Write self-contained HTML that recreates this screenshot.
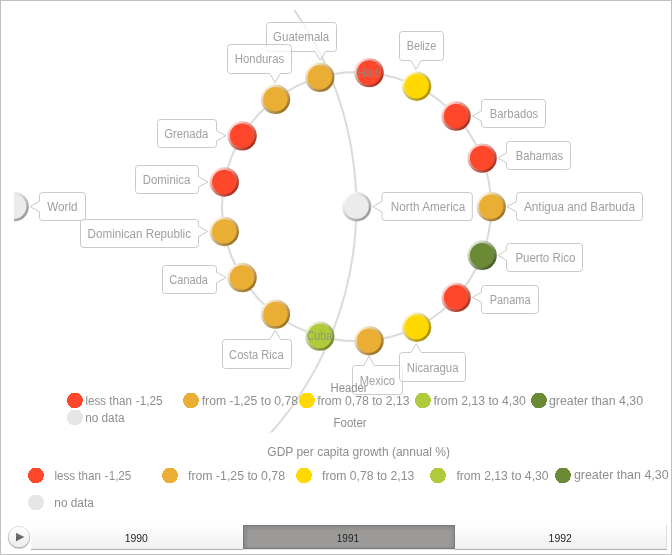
<!DOCTYPE html>
<html lang="en"><head><meta charset="utf-8"><title>GDP per capita growth (annual %)</title>
<style>html,body{margin:0;padding:0;background:#fff;overflow:hidden}svg{display:block;font-family:'Liberation Sans', sans-serif}</style></head><body>
<svg width="672" height="555" viewBox="0 0 672 555">
<defs>
<clipPath id="plot"><rect x="14" y="10" width="644" height="422.5"/></clipPath>
<linearGradient id="rim-red" x1="0.16" y1="0.16" x2="0.84" y2="0.84"><stop offset="0" stop-color="#ffdad4"/><stop offset="1" stop-color="#a82e1c"/></linearGradient>
<linearGradient id="rim-org" x1="0.16" y1="0.16" x2="0.84" y2="0.84"><stop offset="0" stop-color="#fbeed6"/><stop offset="1" stop-color="#9b7222"/></linearGradient>
<linearGradient id="rim-yel" x1="0.16" y1="0.16" x2="0.84" y2="0.84"><stop offset="0" stop-color="#fff7cc"/><stop offset="1" stop-color="#a88f00"/></linearGradient>
<linearGradient id="rim-lgr" x1="0.16" y1="0.16" x2="0.84" y2="0.84"><stop offset="0" stop-color="#eff4d8"/><stop offset="1" stop-color="#738527"/></linearGradient>
<linearGradient id="rim-dgr" x1="0.16" y1="0.16" x2="0.84" y2="0.84"><stop offset="0" stop-color="#e1e7d6"/><stop offset="1" stop-color="#455b23"/></linearGradient>
<linearGradient id="rim-gry" x1="0.16" y1="0.16" x2="0.84" y2="0.84"><stop offset="0" stop-color="#fbfbfb"/><stop offset="1" stop-color="#9b9b9b"/></linearGradient>
<linearGradient id="tl" x1="0" y1="0" x2="0" y2="1"><stop offset="0" stop-color="#ffffff"/><stop offset="1" stop-color="#efefef"/></linearGradient>
<linearGradient id="tls" x1="0" y1="0" x2="0" y2="1"><stop offset="0" stop-color="#8b8a88"/><stop offset="0.2" stop-color="#9a9997"/><stop offset="0.85" stop-color="#9d9c9a"/><stop offset="1" stop-color="#939290"/></linearGradient>
<linearGradient id="tlsl" x1="0" y1="0" x2="1" y2="0"><stop offset="0" stop-color="#7b7a78" stop-opacity="0.55"/><stop offset="1" stop-color="#7b7a78" stop-opacity="0"/></linearGradient>
<linearGradient id="tlsr" x1="1" y1="0" x2="0" y2="0"><stop offset="0" stop-color="#7b7a78" stop-opacity="0.4"/><stop offset="1" stop-color="#7b7a78" stop-opacity="0"/></linearGradient>
<linearGradient id="btns" x1="0" y1="0" x2="0" y2="1"><stop offset="0" stop-color="#dcdcdc"/><stop offset="1" stop-color="#a8a8a8"/></linearGradient>
<linearGradient id="btn" x1="0" y1="0" x2="0" y2="1"><stop offset="0" stop-color="#ffffff"/><stop offset="1" stop-color="#ececec"/></linearGradient>
<linearGradient id="tri" x1="0" y1="0" x2="0" y2="1"><stop offset="0" stop-color="#7a7a7a"/><stop offset="1" stop-color="#555555"/></linearGradient>
</defs>
<rect x="0" y="0" width="672" height="555" fill="#fff"/>
<g clip-path="url(#plot)" fill="none" stroke="#dcdcdc" stroke-width="2.1">
<circle cx="14.2" cy="206.6" r="342.1"/>
<circle cx="356.6" cy="206.7" r="134.6"/>
</g>
<g clip-path="url(#plot)">
<circle cx="14.2" cy="206.6" r="14.7" fill="url(#rim-gry)"/>
<circle cx="14.15" cy="206.5" r="12.2" fill="#ebebeb"/>
<circle cx="356.6" cy="206.7" r="14.7" fill="url(#rim-gry)"/>
<circle cx="356.55" cy="206.6" r="12.2" fill="#ebebeb"/>
<circle cx="491.2" cy="206.7" r="14.7" fill="url(#rim-org)"/>
<circle cx="491.15" cy="206.6" r="12.2" fill="#ebae34"/>
<circle cx="482.11" cy="255.32" r="14.7" fill="url(#rim-dgr)"/>
<circle cx="482.06" cy="255.22" r="12.2" fill="#6a8a36"/>
<circle cx="456.07" cy="297.38" r="14.7" fill="url(#rim-red)"/>
<circle cx="456.02" cy="297.28" r="12.2" fill="#ff472b"/>
<circle cx="416.6" cy="327.19" r="14.7" fill="url(#rim-yel)"/>
<circle cx="416.55" cy="327.09" r="12.2" fill="#ffd900"/>
<circle cx="369.02" cy="340.73" r="14.7" fill="url(#rim-org)"/>
<circle cx="368.97" cy="340.63" r="12.2" fill="#ebae34"/>
<circle cx="319.76" cy="336.16" r="14.7" fill="url(#rim-lgr)"/>
<circle cx="319.71" cy="336.06" r="12.2" fill="#afcb3c"/>
<circle cx="275.49" cy="314.11" r="14.7" fill="url(#rim-org)"/>
<circle cx="275.44" cy="314.01" r="12.2" fill="#ebae34"/>
<circle cx="242.16" cy="277.56" r="14.7" fill="url(#rim-org)"/>
<circle cx="242.11" cy="277.46" r="12.2" fill="#ebae34"/>
<circle cx="224.29" cy="231.43" r="14.7" fill="url(#rim-org)"/>
<circle cx="224.24" cy="231.33" r="12.2" fill="#ebae34"/>
<circle cx="224.29" cy="181.97" r="14.7" fill="url(#rim-red)"/>
<circle cx="224.24" cy="181.87" r="12.2" fill="#ff472b"/>
<circle cx="242.16" cy="135.84" r="14.7" fill="url(#rim-red)"/>
<circle cx="242.11" cy="135.74" r="12.2" fill="#ff472b"/>
<circle cx="275.49" cy="99.29" r="14.7" fill="url(#rim-org)"/>
<circle cx="275.44" cy="99.19" r="12.2" fill="#ebae34"/>
<circle cx="319.76" cy="77.24" r="14.7" fill="url(#rim-org)"/>
<circle cx="319.71" cy="77.14" r="12.2" fill="#ebae34"/>
<circle cx="369.02" cy="72.67" r="14.7" fill="url(#rim-red)"/>
<circle cx="368.97" cy="72.57" r="12.2" fill="#ff472b"/>
<circle cx="416.6" cy="86.21" r="14.7" fill="url(#rim-yel)"/>
<circle cx="416.55" cy="86.11" r="12.2" fill="#ffd900"/>
<circle cx="456.07" cy="116.02" r="14.7" fill="url(#rim-red)"/>
<circle cx="456.02" cy="115.92" r="12.2" fill="#ff472b"/>
<circle cx="482.11" cy="158.08" r="14.7" fill="url(#rim-red)"/>
<circle cx="482.06" cy="157.98" r="12.2" fill="#ff472b"/>
</g>
<g clip-path="url(#plot)">
<path d="M42.5 192.5L82.5 192.5Q85.5 192.5 85.5 195.5L85.5 217.5Q85.5 220.5 82.5 220.5L42.5 220.5Q39.5 220.5 39.5 217.5L39.5 211.75 L30 206.55 L39.5 201.35L39.5 195.5Q39.5 192.5 42.5 192.5Z" fill="#fff" fill-opacity="0.72" stroke="#c9c9c9" stroke-width="1"/>
<text x="47.2" y="211.2" textLength="30.3" lengthAdjust="spacingAndGlyphs" font-size="12" fill="#a0a0a0">World</text>
<path d="M385 192.5L469.3 192.5Q472.3 192.5 472.3 195.5L472.3 217.5Q472.3 220.5 469.3 220.5L385 220.5Q382 220.5 382 217.5L382 211.85 L372.6 206.65 L382 201.45L382 195.5Q382 192.5 385 192.5Z" fill="#fff" fill-opacity="0.72" stroke="#c9c9c9" stroke-width="1"/>
<text x="390.8" y="211.3" textLength="74.5" lengthAdjust="spacingAndGlyphs" font-size="12" fill="#a0a0a0">North America</text>
<path d="M519.5 192.5L639.5 192.5Q642.5 192.5 642.5 195.5L642.5 217.5Q642.5 220.5 639.5 220.5L519.5 220.5Q516.5 220.5 516.5 217.5L516.5 211.85 L506.8 206.65 L516.5 201.45L516.5 195.5Q516.5 192.5 519.5 192.5Z" fill="#fff" fill-opacity="0.72" stroke="#c9c9c9" stroke-width="1"/>
<text x="523.9" y="211.1" textLength="111.1" lengthAdjust="spacingAndGlyphs" font-size="12" fill="#a0a0a0">Antigua and Barbuda</text>
<path d="M509.5 141.5L567.5 141.5Q570.5 141.5 570.5 144.5L570.5 166.5Q570.5 169.5 567.5 169.5L509.5 169.5Q506.5 169.5 506.5 166.5L506.5 163.23 L498.2 158.03 L506.5 152.83L506.5 144.5Q506.5 141.5 509.5 141.5Z" fill="#fff" fill-opacity="0.72" stroke="#c9c9c9" stroke-width="1"/>
<text x="515.7" y="160.1" textLength="47.4" lengthAdjust="spacingAndGlyphs" font-size="12" fill="#a0a0a0">Bahamas</text>
<path d="M484.5 99.5L542.5 99.5Q545.5 99.5 545.5 102.5L545.5 124.5Q545.5 127.5 542.5 127.5L484.5 127.5Q481.5 127.5 481.5 124.5L481.5 121.17 L472.4 115.97 L481.5 110.77L481.5 102.5Q481.5 99.5 484.5 99.5Z" fill="#fff" fill-opacity="0.72" stroke="#c9c9c9" stroke-width="1"/>
<text x="489.8" y="118.2" textLength="48.3" lengthAdjust="spacingAndGlyphs" font-size="12" fill="#a0a0a0">Barbados</text>
<path d="M402.5 31.5L440.5 31.5Q443.5 31.5 443.5 34.5L443.5 57.5Q443.5 60.5 440.5 60.5L421.2 60.5 L416 69.3 L410.8 60.5L402.5 60.5Q399.5 60.5 399.5 57.5L399.5 34.5Q399.5 31.5 402.5 31.5Z" fill="#fff" fill-opacity="0.72" stroke="#c9c9c9" stroke-width="1"/>
<text x="406.7" y="50" textLength="29.5" lengthAdjust="spacingAndGlyphs" font-size="12" fill="#a0a0a0">Belize</text>
<path d="M269.5 22.5L333.5 22.5Q336.5 22.5 336.5 25.5L336.5 48.5Q336.5 51.5 333.5 51.5L325.5 51.5 L320.3 60.3 L315.1 51.5L269.5 51.5Q266.5 51.5 266.5 48.5L266.5 25.5Q266.5 22.5 269.5 22.5Z" fill="#fff" fill-opacity="0.72" stroke="#c9c9c9" stroke-width="1"/>
<text x="273.1" y="41" textLength="56.1" lengthAdjust="spacingAndGlyphs" font-size="12" fill="#a0a0a0">Guatemala</text>
<path d="M230.5 44.5L288.5 44.5Q291.5 44.5 291.5 47.5L291.5 70.5Q291.5 73.5 288.5 73.5L280.2 73.5 L275 82.5 L269.8 73.5L230.5 73.5Q227.5 73.5 227.5 70.5L227.5 47.5Q227.5 44.5 230.5 44.5Z" fill="#fff" fill-opacity="0.72" stroke="#c9c9c9" stroke-width="1"/>
<text x="234.8" y="63" textLength="49.4" lengthAdjust="spacingAndGlyphs" font-size="12" fill="#a0a0a0">Honduras</text>
<path d="M160.5 119.5L213.5 119.5Q216.5 119.5 216.5 122.5L216.5 130.59 L226 135.79 L216.5 140.99L216.5 144.5Q216.5 147.5 213.5 147.5L160.5 147.5Q157.5 147.5 157.5 144.5L157.5 122.5Q157.5 119.5 160.5 119.5Z" fill="#fff" fill-opacity="0.72" stroke="#c9c9c9" stroke-width="1"/>
<text x="164.3" y="138.1" textLength="43.9" lengthAdjust="spacingAndGlyphs" font-size="12" fill="#a0a0a0">Grenada</text>
<path d="M138.5 165.5L195.5 165.5Q198.5 165.5 198.5 168.5L198.5 176.72 L208 181.92 L198.5 187.12L198.5 190.5Q198.5 193.5 195.5 193.5L138.5 193.5Q135.5 193.5 135.5 190.5L135.5 168.5Q135.5 165.5 138.5 165.5Z" fill="#fff" fill-opacity="0.72" stroke="#c9c9c9" stroke-width="1"/>
<text x="142.8" y="184.1" textLength="47.5" lengthAdjust="spacingAndGlyphs" font-size="12" fill="#a0a0a0">Dominica</text>
<path d="M83.5 219.5L195.5 219.5Q198.5 219.5 198.5 222.5L198.5 226.18 L207.8 231.38 L198.5 236.58L198.5 244.5Q198.5 247.5 195.5 247.5L83.5 247.5Q80.5 247.5 80.5 244.5L80.5 222.5Q80.5 219.5 83.5 219.5Z" fill="#fff" fill-opacity="0.72" stroke="#c9c9c9" stroke-width="1"/>
<text x="87.6" y="237.6" textLength="103.4" lengthAdjust="spacingAndGlyphs" font-size="12" fill="#a0a0a0">Dominican Republic</text>
<path d="M165.5 265.5L213.5 265.5Q216.5 265.5 216.5 268.5L216.5 272.31 L226.1 277.51 L216.5 282.71L216.5 290.5Q216.5 293.5 213.5 293.5L165.5 293.5Q162.5 293.5 162.5 290.5L162.5 268.5Q162.5 265.5 165.5 265.5Z" fill="#fff" fill-opacity="0.72" stroke="#c9c9c9" stroke-width="1"/>
<text x="169.3" y="283.9" textLength="38.7" lengthAdjust="spacingAndGlyphs" font-size="12" fill="#a0a0a0">Canada</text>
<path d="M225.5 339.5L270 339.5 L275.2 330.4 L280.4 339.5L288.5 339.5Q291.5 339.5 291.5 342.5L291.5 365.5Q291.5 368.5 288.5 368.5L225.5 368.5Q222.5 368.5 222.5 365.5L222.5 342.5Q222.5 339.5 225.5 339.5Z" fill="#fff" fill-opacity="0.72" stroke="#c9c9c9" stroke-width="1"/>
<text x="229.1" y="358.7" textLength="54.5" lengthAdjust="spacingAndGlyphs" font-size="12" fill="#a0a0a0">Costa Rica</text>
<path d="M355.5 365.5L363.8 365.5 L369 356.1 L374.2 365.5L399.5 365.5Q402.5 365.5 402.5 368.5L402.5 391.5Q402.5 394.5 399.5 394.5L355.5 394.5Q352.5 394.5 352.5 391.5L352.5 368.5Q352.5 365.5 355.5 365.5Z" fill="#fff" fill-opacity="0.72" stroke="#c9c9c9" stroke-width="1"/>
<text x="359.7" y="384.8" textLength="35.4" lengthAdjust="spacingAndGlyphs" font-size="12" fill="#a0a0a0">Mexico</text>
<path d="M402.5 352.5L411 352.5 L416.2 343.7 L421.4 352.5L462.5 352.5Q465.5 352.5 465.5 355.5L465.5 378.5Q465.5 381.5 462.5 381.5L402.5 381.5Q399.5 381.5 399.5 378.5L399.5 355.5Q399.5 352.5 402.5 352.5Z" fill="#fff" fill-opacity="0.72" stroke="#c9c9c9" stroke-width="1"/>
<text x="406.7" y="371.8" textLength="51.8" lengthAdjust="spacingAndGlyphs" font-size="12" fill="#a0a0a0">Nicaragua</text>
<path d="M484.5 285.5L535.5 285.5Q538.5 285.5 538.5 288.5L538.5 310.5Q538.5 313.5 535.5 313.5L484.5 313.5Q481.5 313.5 481.5 310.5L481.5 302.53 L472.4 297.33 L481.5 292.13L481.5 288.5Q481.5 285.5 484.5 285.5Z" fill="#fff" fill-opacity="0.72" stroke="#c9c9c9" stroke-width="1"/>
<text x="489.7" y="304" textLength="40.9" lengthAdjust="spacingAndGlyphs" font-size="12" fill="#a0a0a0">Panama</text>
<path d="M509.5 243.5L579.5 243.5Q582.5 243.5 582.5 246.5L582.5 268.5Q582.5 271.5 579.5 271.5L509.5 271.5Q506.5 271.5 506.5 268.5L506.5 260.47 L498.3 255.27 L506.5 250.07L506.5 246.5Q506.5 243.5 509.5 243.5Z" fill="#fff" fill-opacity="0.72" stroke="#c9c9c9" stroke-width="1"/>
<text x="515.4" y="261.8" textLength="60" lengthAdjust="spacingAndGlyphs" font-size="12" fill="#a0a0a0">Puerto Rico</text>
<text x="357.4" y="77.2" textLength="23.3" lengthAdjust="spacingAndGlyphs" font-size="12" fill="#8c8c8c" fill-opacity="0.8">Haiti</text>
<text x="306.7" y="340.1" textLength="25.2" lengthAdjust="spacingAndGlyphs" font-size="12" fill="#8c8c8c" fill-opacity="0.8">Cuba</text>
</g>
<text x="330.5" y="392.2" textLength="37.1" lengthAdjust="spacingAndGlyphs" font-size="12" fill="#8e8e8e">Header</text>
<text x="333.5" y="427.2" textLength="33.2" lengthAdjust="spacingAndGlyphs" font-size="12" fill="#8e8e8e">Footer</text>
<circle cx="75" cy="400.5" r="7.9" fill="#ff472b" shape-rendering="crispEdges"/>
<text y="404.95" font-size="12" fill="#8e8e8e"><tspan x="85.4" textLength="46.6" lengthAdjust="spacingAndGlyphs">less than</tspan> <tspan x="135.8" textLength="26.7" lengthAdjust="spacingAndGlyphs">-1,25</tspan></text>
<circle cx="191" cy="400.5" r="7.9" fill="#ebae34" shape-rendering="crispEdges"/>
<text x="201.7" y="404.95" textLength="96.4" lengthAdjust="spacingAndGlyphs" font-size="12" fill="#8e8e8e">from -1,25 to 0,78</text>
<circle cx="307" cy="400.5" r="7.9" fill="#ffd900" shape-rendering="crispEdges"/>
<text x="317.3" y="404.95" textLength="92.2" lengthAdjust="spacingAndGlyphs" font-size="12" fill="#8e8e8e">from 0,78 to 2,13</text>
<circle cx="423" cy="400.5" r="7.9" fill="#afcb3c" shape-rendering="crispEdges"/>
<text x="433.4" y="404.95" textLength="92.5" lengthAdjust="spacingAndGlyphs" font-size="12" fill="#8e8e8e">from 2,13 to 4,30</text>
<circle cx="539" cy="400.5" r="7.9" fill="#6a8a36" shape-rendering="crispEdges"/>
<text x="548.9" y="404.95" textLength="94.2" lengthAdjust="spacingAndGlyphs" font-size="12" fill="#8e8e8e">greater than 4,30</text>
<circle cx="75" cy="417.5" r="7.9" fill="#e6e6e6" shape-rendering="crispEdges"/>
<text x="85.2" y="421.95" textLength="39.3" lengthAdjust="spacingAndGlyphs" font-size="12" fill="#8e8e8e">no data</text>
<text x="267.3" y="455.6" textLength="182.7" lengthAdjust="spacingAndGlyphs" font-size="12" fill="#8e8e8e">GDP per capita growth (annual %)</text>
<circle cx="36" cy="475.5" r="7.9" fill="#ff472b" shape-rendering="crispEdges"/>
<text y="479.95" font-size="12" fill="#8e8e8e"><tspan x="54.4" textLength="46.6" lengthAdjust="spacingAndGlyphs">less than</tspan> <tspan x="104.8" textLength="26.5" lengthAdjust="spacingAndGlyphs">-1,25</tspan></text>
<circle cx="170" cy="475.5" r="7.9" fill="#ebae34" shape-rendering="crispEdges"/>
<text x="188" y="479.95" textLength="97" lengthAdjust="spacingAndGlyphs" font-size="12" fill="#8e8e8e">from -1,25 to 0,78</text>
<circle cx="304" cy="475.5" r="7.9" fill="#ffd900" shape-rendering="crispEdges"/>
<text x="322" y="479.95" textLength="92.3" lengthAdjust="spacingAndGlyphs" font-size="12" fill="#8e8e8e">from 0,78 to 2,13</text>
<circle cx="438" cy="475.5" r="7.9" fill="#afcb3c" shape-rendering="crispEdges"/>
<text x="456.4" y="479.95" textLength="92.2" lengthAdjust="spacingAndGlyphs" font-size="12" fill="#8e8e8e">from 2,13 to 4,30</text>
<circle cx="563" cy="475.5" r="7.9" fill="#6a8a36" shape-rendering="crispEdges"/>
<text x="573.9" y="479.35" textLength="94.7" lengthAdjust="spacingAndGlyphs" font-size="12" fill="#8e8e8e">greater than 4,30</text>
<circle cx="36" cy="502.5" r="7.9" fill="#e6e6e6" shape-rendering="crispEdges"/>
<text x="54.3" y="506.95" textLength="39.5" lengthAdjust="spacingAndGlyphs" font-size="12" fill="#8e8e8e">no data</text>
<rect x="31.4" y="525" width="635.6" height="24" fill="url(#tl)"/>
<rect x="666" y="525" width="1" height="24" fill="#dedede"/>
<rect x="31" y="549" width="212" height="1" fill="#adadad"/>
<rect x="243" y="549" width="212" height="1" fill="#e4e4e4"/>
<rect x="455" y="549" width="212" height="1" fill="#adadad"/>
<rect x="243" y="525" width="212" height="24" fill="#7b7a78"/>
<rect x="244" y="526" width="210" height="22" fill="url(#tls)"/>
<rect x="244" y="526" width="5" height="22" fill="url(#tlsl)"/>
<rect x="449" y="526" width="5" height="22" fill="url(#tlsr)"/>
<text x="124.7" y="542.4" textLength="23.2" lengthAdjust="spacingAndGlyphs" font-size="11" fill="#222">1990</text>
<text x="336.8" y="542.4" textLength="22.2" lengthAdjust="spacingAndGlyphs" font-size="11" fill="#222">1991</text>
<text x="548.6" y="542.4" textLength="23.3" lengthAdjust="spacingAndGlyphs" font-size="11" fill="#222">1992</text>
<circle cx="19.1" cy="537.9" r="11" fill="#000" fill-opacity="0.2"/>
<circle cx="19" cy="537" r="10.8" fill="url(#btn)" stroke="url(#btns)" stroke-width="0.9"/>
<path d="M16 532.8 L24.3 537 L16 541.3 Z" fill="url(#tri)"/>
<rect x="0.5" y="0.5" width="671" height="554" fill="none" stroke="#c0c0c0" stroke-width="1"/>
</svg></body></html>
